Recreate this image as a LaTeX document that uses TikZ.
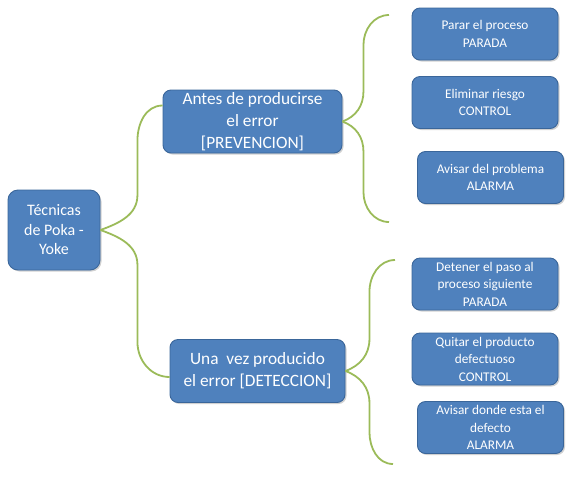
\documentclass[tikz,border=0pt]{standalone}
\usepackage{fontspec}
\setmainfont{Carlito}
\usepackage{tikz}
\usetikzlibrary{calc, shadows}
\definecolor{cajaazul}{HTML}{4F81BD}
\definecolor{bordeazul}{HTML}{3A669A}
\definecolor{verdellave}{HTML}{9BBB59}
\newcommand{\llave}[5]{%
  \draw[llave] (#1) to[out=20,in=-90] ($(#1)+(#4,#5)$) -- ($(#1 |- #2)+(#4,-#5)$) to[out=90,in=180] (#2);
  \draw[llave] (#1) to[out=-20,in=90] ($(#1)+(#4,-#5)$) -- ($(#1 |- #3)+(#4,#5)$) to[out=-90,in=180] (#3);
}

\begin{document}
\begin{tikzpicture}[x=1pt, y=1pt,
  caja/.style={draw=bordeazul, line width=0.9pt, fill=cajaazul, text=white, rounded corners=8pt,
    align=center, inner sep=0pt,
    drop shadow={shadow xshift=1.5pt, shadow yshift=-1.5pt, opacity=0.3, fill=black!60}},
  raiz/.style={caja, rounded corners=10pt, minimum width=92pt, minimum height=80pt, font=\fontsize{16}{19.5}\selectfont},
  medio/.style={caja, minimum height=63pt, font=\fontsize{17.3}{22}\selectfont},
  hoja/.style={caja, minimum width=146pt, minimum height=52pt, font=\fontsize{13.3}{17.5}\selectfont},
  llave/.style={draw=verdellave, line width=1.8pt}]
  \useasboundingbox (0,0) rectangle (575,-480);

  % tecnicas de Poka-Yoke
  \node[raiz] (raiz) at (54,-230) {Técnicas\\de Poka -\\Yoke};
  \node[medio, minimum width=179pt] (prev) at (252.5,-121.5) {Antes de producirse\\el error\\{[PREVENCION]}};
  \node[medio, minimum width=175pt] (det) at (257.5,-371) {Una\ \ vez producido\\el error [DETECCION]};

  \node[hoja] (parada1) at (485,-34) {Parar el proceso\\PARADA};
  \node[hoja] (control1) at (485,-102.5) {Eliminar riesgo\\CONTROL};
  \node[hoja] (alarma1) at (490.5,-177.5) {Avisar del problema\\ALARMA};

  \node[hoja] (parada2) at (485,-284) {Detener el paso al\\proceso siguiente\\PARADA};
  \node[hoja] (control2) at (485,-359) {Quitar el producto\\defectuoso\\CONTROL};
  \node[hoja] (alarma2) at (490.5,-427.5) {Avisar donde esta el\\defecto\\ALARMA};

  \coordinate (a1) at ($(prev.west)+(0,16)$);
  \coordinate (a2) at ($(det.west)+(0,-6)$);
  \coordinate (b1) at (389,-15);
  \coordinate (b2) at (389,-222);
  \coordinate (c1) at (395,-260);
  \coordinate (c2) at (393,-464);

  \llave{raiz.east}{a1}{a2}{37}{35}
  \llave{prev.east}{b1}{b2}{21}{30}
  \llave{det.east}{c1}{c2}{24}{32}
\end{tikzpicture}
\end{document}
